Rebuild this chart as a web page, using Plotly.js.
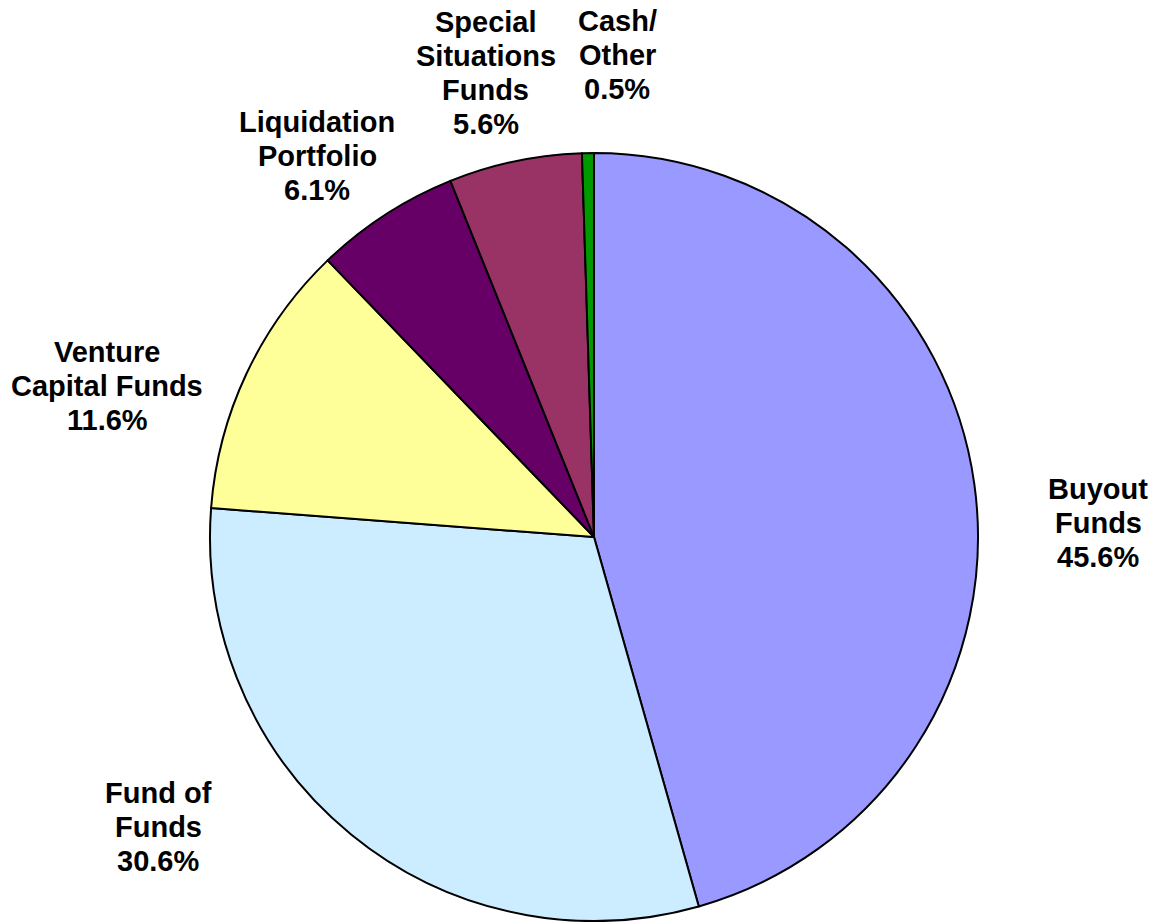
<!DOCTYPE html>
<html>
<head>
<meta charset="utf-8">
<script src="https://cdn.plot.ly/plotly-3.0.1.min.js"></script>
<style>html,body{margin:0;padding:0;background:#fff;}#chart{width:1155px;height:922px;}</style>
</head>
<body>
<div id="chart"></div>
<script>
const categories = ["Buyout Funds", "Fund of Funds", "Venture Capital Funds", "Liquidation Portfolio", "Special Situations Funds", "Cash/ Other"];
const labelLines = [["Buyout", "Funds"], ["Fund of", "Funds"], ["Venture", "Capital Funds"], ["Liquidation", "Portfolio"], ["Special", "Situations", "Funds"], ["Cash/", "Other"]];
const shares = [45.6, 30.6, 11.6, 6.1, 5.6, 0.5];
const colors = ["#9999FF", "#CCECFF", "#FFFF99", "#660066", "#993366", "#009900"];
// label block centres in pixels (layout only)
const labelPos = [[1098, 523], [158, 827], [107, 386], [317, 156], [486, 73], [617, 55]];
const lineGap = 34;

const W = 1155, H = 922;
const trace = {
  type: "pie",
  labels: categories,
  values: shares,
  sort: false,
  direction: "clockwise",
  rotation: 0,
  textinfo: "none",
  hoverinfo: "label+percent",
  marker: { colors: colors, line: { color: "#000000", width: 2 } },
  domain: { x: [(594 - 384) / W, (594 + 384) / W], y: [(H - 921) / H, (H - 153) / H] },
  showlegend: false
};

const annotations = [];
categories.forEach((c, i) => {
  const lines = labelLines[i].concat([shares[i].toFixed(1) + "%"]);
  const n = lines.length;
  lines.forEach((t, j) => {
    const py = labelPos[i][1] + (j - (n - 1) / 2) * lineGap;
    annotations.push({
      xref: "paper", yref: "paper",
      x: labelPos[i][0] / W, y: 1 - py / H,
      xanchor: "center", yanchor: "middle",
      text: t, showarrow: false,
      font: { family: "Arial, 'Liberation Sans', sans-serif", size: 29, color: "#000", weight: "bold" }
    });
  });
});

const layout = {
  width: W, height: H,
  margin: { l: 0, r: 0, t: 0, b: 0 },
  paper_bgcolor: "#ffffff",
  annotations: annotations
};

Plotly.newPlot("chart", [trace], layout, { displayModeBar: false, staticPlot: true });
</script>
</body>
</html>
